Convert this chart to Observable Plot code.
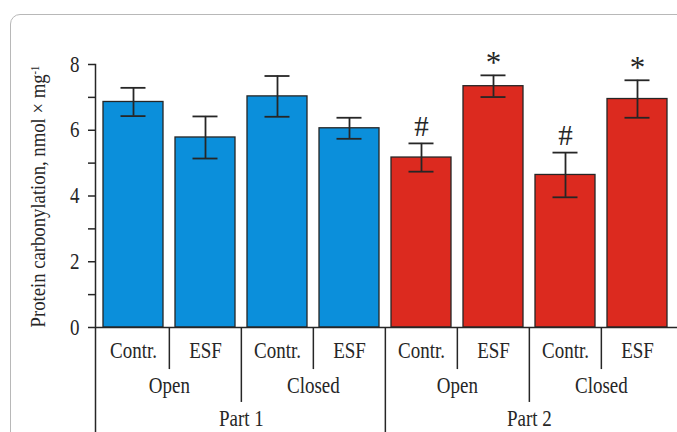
<!DOCTYPE html>
<html>
<head>
<meta charset="utf-8">
<script src="https://cdn.jsdelivr.net/npm/d3@7"></script>
<script src="https://cdn.jsdelivr.net/npm/@observablehq/plot@0.6"></script>
<style>
  html, body { margin: 0; padding: 0; background: #fff; overflow: hidden; }
  #wrap { position: relative; width: 677px; height: 432px; }
  #border { position: absolute; left: 10px; top: 14px; width: 720px; height: 480px;
            border: 1px solid #b8b8b8; border-radius: 10px; box-sizing: border-box; }
  #chart { position: absolute; left: 0; top: 0; }
</style>
</head>
<body>
<div id="wrap"><div id="border"></div><div id="chart"></div></div>
<script>
// ---- data ----
const ids = ["P1-Open-Contr", "P1-Open-ESF", "P1-Closed-Contr", "P1-Closed-ESF",
             "P2-Open-Contr", "P2-Open-ESF", "P2-Closed-Contr", "P2-Closed-ESF"];
const parts = ["Part 1", "Part 1", "Part 1", "Part 1", "Part 2", "Part 2", "Part 2", "Part 2"];
const conditions = ["Open", "Open", "Closed", "Closed", "Open", "Open", "Closed", "Closed"];
const groups = ["Contr.", "ESF", "Contr.", "ESF", "Contr.", "ESF", "Contr.", "ESF"];
const values = [6.86, 5.78, 7.03, 6.06, 5.17, 7.34, 4.64, 6.95];
const errors = [0.43, 0.64, 0.62, 0.32, 0.43, 0.33, 0.68, 0.57];
const signs = ["", "", "", "", "#", "*", "#", "*"];
const majorTicks = [0, 2, 4, 6, 8];
const minorTicks = [1, 3, 5, 7];
const yLabel = "Protein carbonylation, nmol × mg";
const yLabelSup = "-1";

// ---- layout ----
const W = 677, H = 432;
const xRange = [95, 674];
const yMin = -3.194, yMax = 8;
const row1Bottom = -1.28, row2Bottom = -2.28;
const row1Text = -0.70, row2Text = -1.764, row3Text = -2.768;
const blue = "#0b8fdb", red = "#dc2a1f", ink = "#262626";
const font = "'Liberation Serif', 'Times New Roman', serif";
const stretch = 1.16;

const xOpts = {type: "band", domain: ids, range: xRange, paddingInner: 0.17, paddingOuter: 0.09};
const xs = Plot.scale({x: xOpts});
const step = xs.step ?? (xs.apply(ids[1]) - xs.apply(ids[0]));
const bw = xs.bandwidth ?? step * 0.83;
const half = step / 2;
const capInset = (bw - 25) / 2;

const data = ids.map((id, i) => ({
  id, part: parts[i], condition: conditions[i], group: groups[i],
  value: values[i], error: errors[i], sign: signs[i],
  lo: values[i] - errors[i], hi: values[i] + errors[i]
}));
const esf = data.filter(d => d.group === "ESF");
const closedContr = data.filter(d => d.condition === "Closed" && d.group === "Contr.");
const partStart = data.filter(d => d.part === "Part 2" && d.condition === "Open" && d.group === "Contr.");

const chart = Plot.plot({
  width: W, height: H,
  marginLeft: xRange[0], marginRight: 0, marginTop: 64, marginBottom: 0,
  style: {fontFamily: font, fontSize: "19px", color: ink, background: "transparent", overflow: "visible"},
  x: {...xOpts, axis: null},
  y: {domain: [yMin, yMax]},
  color: {domain: ["Part 1", "Part 2"], range: [blue, red]},
  marks: [
    Plot.barY(data, {x: "id", y: "value", fill: "part", stroke: ink, strokeWidth: 1.3}),
    Plot.ruleX(data, {x: "id", y1: "lo", y2: "hi", stroke: ink, strokeWidth: 1.8}),
    Plot.tickY(data, {x: "id", y: "lo", stroke: ink, strokeWidth: 1.8, insetLeft: capInset, insetRight: capInset}),
    Plot.tickY(data, {x: "id", y: "hi", stroke: ink, strokeWidth: 1.8, insetLeft: capInset, insetRight: capInset}),
    Plot.text(data.filter(d => d.sign === "#"), {x: "id", y: "hi", text: "sign", dy: -17, fontSize: 29, fill: ink}),
    Plot.text(data.filter(d => d.sign === "*"), {x: "id", y: "hi", text: "sign", dy: -12, fontSize: 31, fill: ink}),
    // y axis
    Plot.frame({anchor: "left", stroke: ink, strokeWidth: 1.5}),
    Plot.axisY({ticks: majorTicks, tickSize: 7, tickPadding: 9, tickFormat: d => String(d), stroke: ink, strokeWidth: 1.5, fontSize: 19, fill: ink}),
    Plot.axisY({ticks: minorTicks, tickSize: 7, tickFormat: () => "", stroke: ink, strokeWidth: 1.5}),
    Plot.ruleY([0], {stroke: ink, strokeWidth: 1.5}),
    Plot.text([yLabel], {y: () => 0, frameAnchor: "left", dx: -57, rotate: -90, textAnchor: "start", fontSize: 18.7, fill: ink}),
    // category table
    Plot.ruleX(esf, {x: "id", y1: () => 0, y2: () => row1Bottom, dx: -half, stroke: ink, strokeWidth: 1.5}),
    Plot.ruleX(closedContr, {x: "id", y1: () => 0, y2: () => row2Bottom, dx: -half, stroke: ink, strokeWidth: 1.5}),
    Plot.ruleX(partStart, {x: "id", y1: () => 0, y2: () => yMin, dx: -half, stroke: ink, strokeWidth: 1.5}),
    Plot.text(data, {x: "id", y: () => row1Text, text: "group", fontSize: 19, fill: ink}),
    Plot.text(esf, {x: "id", y: () => row2Text, text: "condition", dx: -half, fontSize: 19, fill: ink}),
    Plot.text(closedContr, {x: "id", y: () => row3Text, text: "part", dx: -half, fontSize: 19, fill: ink})
  ]
});

document.getElementById("chart").appendChild(chart);

// superscript on the y label
d3.select(chart).selectAll("text")
  .filter(function () { return this.textContent === yLabel; })
  .each(function () {
    const t = d3.select(this);
    t.text(yLabel);
    t.append("tspan").attr("dy", "-0.55em").attr("font-size", "10.5px").text(yLabelSup);
  });

// the reference typography is slightly taller than wide: stretch glyphs vertically about their anchor
const isNum = v => v != null && /^-?[\d.]+(px)?$/.test(v.trim());
d3.select(chart).selectAll("text")
  .filter(function () { return this.textContent !== "#" && this.textContent !== "*"; })
  .each(function () {
    const el = this;
    let tr = el.getAttribute("transform") || "";
    const x = el.getAttribute("x"), y = el.getAttribute("y");
    const nx = isNum(x) ? parseFloat(x) : 0, ny = isNum(y) ? parseFloat(y) : 0;
    if (isNum(x)) el.removeAttribute("x");
    if (isNum(y)) el.removeAttribute("y");
    if (nx || ny) tr += ` translate(${nx},${ny})`;
    el.setAttribute("transform", (tr + ` scale(1,${stretch})`).trim());
  });
</script>
</body>
</html>
